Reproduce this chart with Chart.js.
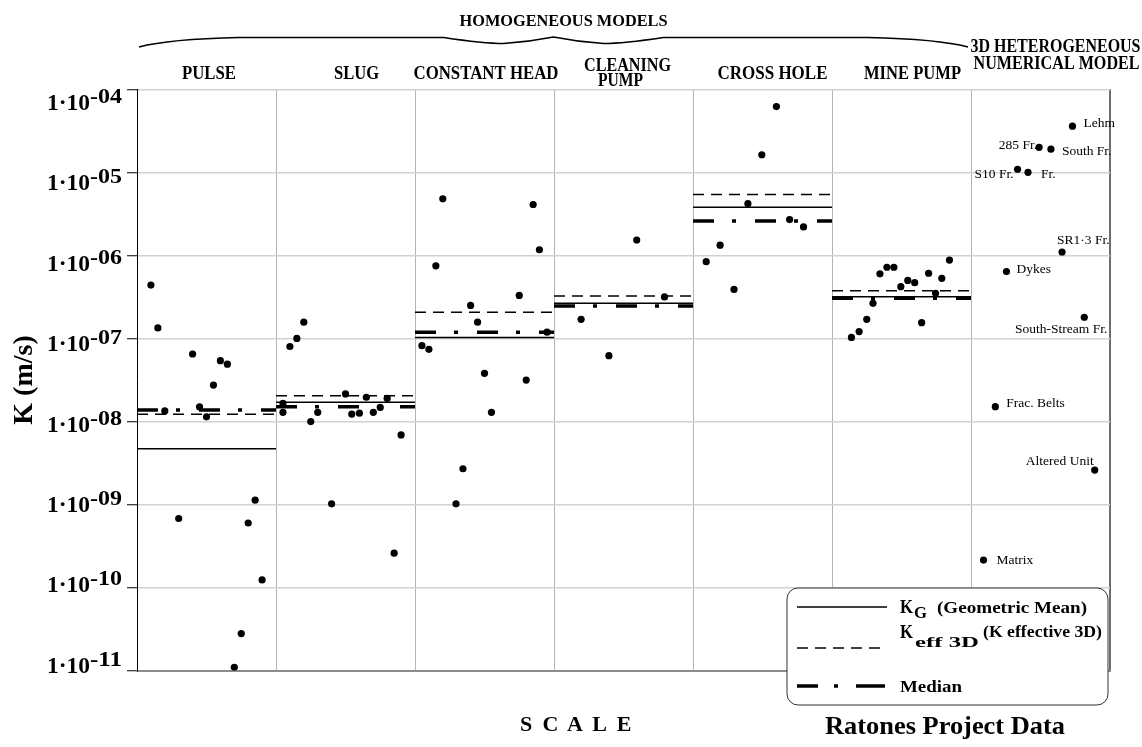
<!DOCTYPE html>
<html>
<head>
<meta charset="utf-8">
<script src="https://cdn.jsdelivr.net/npm/chart.js@4.4.1/dist/chart.umd.min.js"></script>
<style>
	html, body { margin: 0; padding: 0; background: #fff; }
	#wrap { position: relative; width: 1142px; height: 747px; }
</style>
</head>
<body>
<div id="wrap"><canvas id="kChart"></canvas></div>
<script>
// test groups, left to right
var categories = ['PULSE', 'SLUG', 'CONSTANT HEAD', ['CLEANING', 'PUMP'], 'CROSS HOLE', 'MINE PUMP', ['3D HETEROGENEOUS', 'NUMERICAL MODEL']];

// K (m/s) per test; *Pos is where the sample sits inside its column (0..1)
var pulsePos = [0.10, 0.15, 0.40, 0.55, 0.60, 0.65, 0.20, 0.45, 0.50, 0.30, 0.85, 0.80, 0.90, 0.75, 0.70];
var pulseK = [4.4e-7, 1.34e-7, 6.5e-8, 2.75e-8, 5.4e-8, 4.9e-8, 1.34e-8, 1.5e-8, 1.14e-8, 6.8e-10, 1.13e-9, 6.0e-10, 1.24e-10, 2.8e-11, 1.1e-11];

var slugPos = [0.10, 0.15, 0.20, 0.05, 0.05, 0.25, 0.30, 0.50, 0.545, 0.60, 0.65, 0.70, 0.75, 0.80, 0.90, 0.40, 0.85];
var slugK = [8.0e-8, 1.0e-7, 1.57e-7, 1.66e-8, 1.29e-8, 1.0e-8, 1.29e-8, 2.15e-8, 1.23e-8, 1.26e-8, 1.96e-8, 1.29e-8, 1.48e-8, 1.9e-8, 6.9e-9, 1.02e-9, 2.6e-10];

var constPos = [0.20, 0.85, 0.895, 0.15, 0.75, 0.40, 0.45, 0.95, 0.05, 0.10, 0.50, 0.80, 0.55, 0.345, 0.295];
var constK = [4.8e-6, 4.1e-6, 1.17e-6, 7.5e-7, 3.3e-7, 2.5e-7, 1.57e-7, 1.19e-7, 8.2e-8, 7.4e-8, 3.8e-8, 3.16e-8, 1.29e-8, 2.7e-9, 1.02e-9];

var cleanPos = [0.595, 0.795, 0.195, 0.395];
var cleanK = [1.53e-6, 3.16e-7, 1.7e-7, 6.2e-8];

var crossPos = [0.60, 0.495, 0.395, 0.695, 0.795, 0.195, 0.095, 0.295];
var crossK = [6.2e-5, 1.63e-5, 4.2e-6, 2.7e-6, 2.2e-6, 1.33e-6, 8.4e-7, 3.9e-7];

var minePos = [0.845, 0.395, 0.445, 0.345, 0.695, 0.79, 0.545, 0.595, 0.495, 0.745, 0.295, 0.25, 0.645, 0.195, 0.14];
var mineK = [8.8e-7, 7.2e-7, 7.2e-7, 6.0e-7, 6.1e-7, 5.3e-7, 5.0e-7, 4.7e-7, 4.2e-7, 3.5e-7, 2.65e-7, 1.7e-7, 1.55e-7, 1.21e-7, 1.03e-7];

var modelPos = [0.73, 0.49, 0.575, 0.335, 0.41, 0.655, 0.255, 0.815, 0.175, 0.89, 0.09];
var modelK = [3.6e-5, 2.0e-5, 1.9e-5, 1.09e-5, 1.0e-5, 1.1e-6, 6.4e-7, 1.8e-7, 1.51e-8, 2.6e-9, 2.15e-10];
var zoneNames = ['Lehm', '285 Fr.', 'South Fr.', 'S10 Fr.', 'Fr.', 'SR1\u00b73 Fr.', 'Dykes', 'South-Stream Fr.', 'Frac. Belts', 'Altered Unit', 'Matrix'];

// per-test statistics (homogeneous models only)
var kGeoMean = [4.7e-9, 1.71e-8, 1.03e-7, 2.65e-7, 3.8e-6, 3.18e-7];
var kEff3D = [1.22e-8, 2.05e-8, 2.07e-7, 3.25e-7, 5.4e-6, 3.76e-7];
var kMedian = [1.38e-8, 1.51e-8, 1.19e-7, 2.46e-7, 2.6e-6, 3.05e-7];

// y axis decades, top to bottom
var yTicks = [1e-4, 1e-5, 1e-6, 1e-7, 1e-8, 1e-9, 1e-10, 1e-11];
var yTickExp = ['-04', '-05', '-06', '-07', '-08', '-09', '-10', '-11'];

var SERIF = '"Liberation Serif", "Times New Roman", serif';

var solidStyle = { borderWidth: 1.5, borderDash: [] };
var dashStyle = { borderWidth: 1.5, borderDash: [11, 7] };
var medianStyle = { borderWidth: 3.5, borderDash: [21, 18, 4, 19] };

var groups = [[pulsePos, pulseK], [slugPos, slugK], [constPos, constK], [cleanPos, cleanK],
	[crossPos, crossK], [minePos, mineK], [modelPos, modelK]];

var datasets = groups.map(function (g, i) {
	return {
		type: 'scatter',
		label: [].concat(categories[i]).join(' '),
		data: g[0].map(function (p, j) { return { x: i + p, y: g[1][j] }; }),
		pointRadius: 3.6,
		pointHoverRadius: 3.6,
		pointBackgroundColor: '#000',
		pointBorderWidth: 0
	};
});

function statLines(values, label, style) {
	return values.map(function (v, i) {
		return Object.assign({
			type: 'line',
			label: label,
			data: [{ x: i, y: v }, { x: i + 1, y: v }],
			borderColor: '#000',
			pointRadius: 0,
			fill: false,
			borderCapStyle: 'butt'
		}, style);
	});
}
datasets = datasets.concat(statLines(kGeoMean, 'KG', solidStyle),
	statLines(kEff3D, 'Keff 3D', dashStyle),
	statLines(kMedian, 'Median', medianStyle));

// draw text squeezed/stretched to a given width
function fitText(ctx, text, x, y, width, align) {
	var w = ctx.measureText(text).width;
	var s = width ? width / w : 1;
	var left = align === 'right' ? x - w * s : (align === 'center' ? x - w * s / 2 : x);
	ctx.save();
	ctx.translate(left, y);
	ctx.scale(s, 1);
	ctx.textAlign = 'left';
	ctx.fillText(text, 0, 0);
	ctx.restore();
}

var decorations = {
	id: 'decorations',
	beforeDraw: function (chart) {
		var ctx = chart.ctx;
		ctx.save();
		ctx.fillStyle = '#fff';
		ctx.fillRect(0, 0, chart.width, chart.height);
		ctx.restore();
	},
	afterDatasetsDraw: function (chart, args, opts) {
		var ctx = chart.ctx;
		var meta = chart.getDatasetMeta(6);
		ctx.save();
		ctx.fillStyle = '#000';
		ctx.font = '13.5px ' + SERIF;
		ctx.textBaseline = 'middle';
		zoneNames.forEach(function (name, i) {
			var pt = meta.data[i];
			var o = opts.zoneOffsets[i];
			ctx.textAlign = o[2];
			ctx.fillText(name, pt.x + o[0], pt.y + o[1]);
		});
		ctx.restore();
	},
	afterDraw: function (chart, args, opts) {
		var ctx = chart.ctx;
		var xs = chart.scales.x;
		var ys = chart.scales.y;
		ctx.save();
		ctx.fillStyle = '#000';
		ctx.strokeStyle = '#000';

		// y tick labels 1·10^n
		ctx.textBaseline = 'alphabetic';
		yTicks.forEach(function (v, i) {
			var y = ys.getPixelForValue(v) + 20.7 - 2.66 * i;
			ctx.font = 'bold 22px ' + SERIF;
			fitText(ctx, yTickExp[i], 122, y - 7, 32, 'right');
			ctx.font = 'bold 24px ' + SERIF;
			fitText(ctx, '1\u00b710', 90, y, 43, 'right');
		});

		// column headings
		ctx.textBaseline = 'middle';
		ctx.font = 'bold 19px ' + SERIF;
		categories.forEach(function (c, i) {
			var lay = opts.headings[i];
			var cx = xs.getPixelForValue(i + 0.5);
			[].concat(c).forEach(function (line, k) {
				fitText(ctx, line, cx + lay.dx[k], lay.y[k], lay.w[k], 'center');
			});
		});

		// brace over the homogeneous models
		var L = xs.getPixelForValue(0) + 2;
		var R = xs.getPixelForValue(6) - 3;
		var M = (L + R) / 2;
		ctx.lineWidth = 1.6;
		ctx.beginPath();
		ctx.moveTo(L, 47);
		ctx.quadraticCurveTo(L + 30, 39, L + 100, 37.5);
		ctx.lineTo(M - 110, 37.5);
		ctx.quadraticCurveTo(M - 70, 43.5, M - 50, 43.5);
		ctx.quadraticCurveTo(M - 25, 42, M, 37);
		ctx.quadraticCurveTo(M + 25, 42, M + 50, 43.5);
		ctx.quadraticCurveTo(M + 70, 43.5, M + 110, 37.5);
		ctx.lineTo(R - 100, 37.5);
		ctx.quadraticCurveTo(R - 30, 39, R, 47);
		ctx.stroke();
		ctx.font = 'bold 16px ' + SERIF;
		fitText(ctx, 'HOMOGENEOUS MODELS', M + 10, 22, 208, 'center');

		// bottom captions
		ctx.font = 'bold 22px ' + SERIF;
		var letters = 'SCALE'.split('');
		var pitch = 24.5;
		var sx = 575 - pitch * 2;
		ctx.textAlign = 'center';
		letters.forEach(function (ch, k) { ctx.fillText(ch, sx + k * pitch, 725); });
		ctx.font = 'bold 26px ' + SERIF;
		fitText(ctx, 'Ratones Project Data', 945, 727, 240, 'center');

		// legend box
		var bx = 787, by = 588, bw = 321, bh = 117;
		ctx.beginPath();
		ctx.roundRect(bx, by, bw, bh, 11);
		ctx.fillStyle = '#fff';
		ctx.fill();
		ctx.lineWidth = 1;
		ctx.strokeStyle = '#333';
		ctx.stroke();
		var rows = [[solidStyle, 607, []], [dashStyle, 648, dashStyle.borderDash], [medianStyle, 686, [21, 16, 4, 18, 29]]];
		rows.forEach(function (r) {
			ctx.beginPath();
			ctx.lineCap = 'butt';
			ctx.lineWidth = r[0].borderWidth;
			ctx.setLineDash(r[2]);
			ctx.strokeStyle = '#000';
			ctx.moveTo(797, r[1]);
			ctx.lineTo(887, r[1]);
			ctx.stroke();
		});
		ctx.setLineDash([]);
		ctx.fillStyle = '#000';
		ctx.textBaseline = 'alphabetic';
		ctx.font = 'bold 18px ' + SERIF;
		fitText(ctx, 'K', 900, 613, 13, 'left');
		ctx.font = 'bold 17px ' + SERIF;
		fitText(ctx, '(Geometric Mean)', 937, 613, 150, 'left');
		ctx.font = 'bold 16px ' + SERIF;
		fitText(ctx, 'G', 914, 618, 13, 'left');
		ctx.font = 'bold 18px ' + SERIF;
		fitText(ctx, 'K', 900, 638, 13, 'left');
		ctx.font = 'bold 15px ' + SERIF;
		fitText(ctx, 'eff 3D', 915, 647, 64, 'left');
		ctx.font = 'bold 17px ' + SERIF;
		fitText(ctx, '(K effective 3D)', 983, 637, 119, 'left');
		fitText(ctx, 'Median', 900, 692, 62, 'left');
		ctx.restore();
	}
};

new Chart(document.getElementById('kChart'), {
	type: 'scatter',
	data: { datasets: datasets },
	options: {
		responsive: true,
		maintainAspectRatio: false,
		animation: false,
		events: [],
		layout: { padding: { left: 0, top: 89.3, right: 32, bottom: 76.3 } },
		scales: {
			x: {
				type: 'linear',
				min: 0,
				max: 7,
				ticks: { display: false, stepSize: 1 },
				grid: {
					drawTicks: false,
					color: function (c) { return c.tick && c.tick.value === 7 ? '#6e6e6e' : '#b4b4b4'; },
					lineWidth: function (c) { return c.tick && c.tick.value === 7 ? 2 : 1; }
				},
				border: { color: '#8c8c8c', width: 2 },
				afterFit: function (scale) { scale.height = 0; }
			},
			y: {
				type: 'logarithmic',
				min: 1e-11,
				max: 1e-4,
				ticks: { display: false },
				afterBuildTicks: function (scale) {
					scale.ticks = yTicks.map(function (v) { return { value: v }; });
				},
				grid: { color: '#d2d2d2', lineWidth: 1.5, tickColor: '#000', tickLength: 10, tickWidth: 1 },
				border: { color: '#000', width: 1 },
				title: {
					display: true,
					text: 'K (m/s)',
					color: '#000',
					font: { family: SERIF, size: 28, weight: 'bold' },
					padding: { top: 8, bottom: 0 }
				},
				afterFit: function (scale) { scale.width = 137; }
			}
		},
		plugins: {
			legend: { display: false },
			tooltip: { enabled: false },
			decorations: {
				headings: [
					{ dx: [2.5], y: [74], w: [54] },
					{ dx: [11], y: [74], w: [45] },
					{ dx: [1.5], y: [74], w: [145] },
					{ dx: [4, -3], y: [66, 81], w: [87, 45] },
					{ dx: [10], y: [74], w: [110] },
					{ dx: [11], y: [74], w: [97] },
					{ dx: [15, 16], y: [47, 64], w: [170, 166] }
				],
				zoneOffsets: [[11, -3, 'left'], [-2, -2, 'right'], [11, 2, 'left'], [-4, 5, 'right'],
					[13, 2, 'left'], [-5, -12, 'left'], [10, -2, 'left'], [23, 12, 'right'],
					[11, -3, 'left'], [-1, -9, 'right'], [13, 0, 'left']]
			}
		}
	},
	plugins: [decorations]
});
</script>
</body>
</html>
